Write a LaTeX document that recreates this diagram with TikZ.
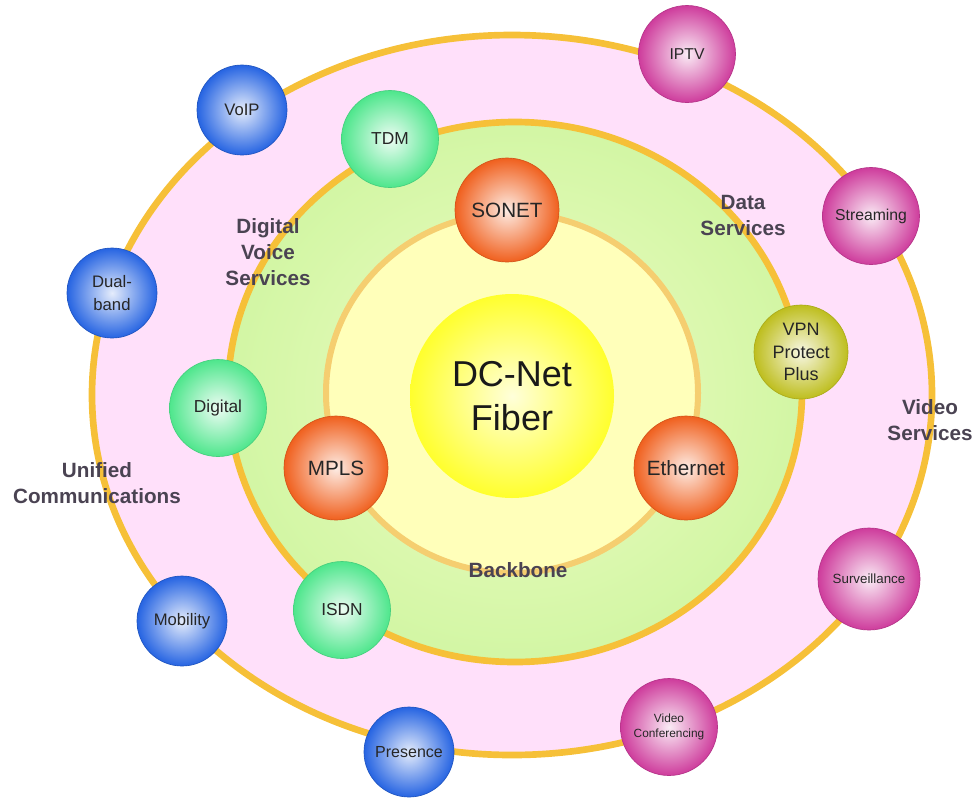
\documentclass[tikz,border=0pt]{standalone}
\usepackage{fontspec}
\setmainfont{Liberation Sans}

\definecolor{ringgold}{RGB}{246,192,56}
\definecolor{pinkband}{RGB}{255,224,250}
\definecolor{greenout}{RGB}{210,246,164}
\definecolor{greenin}{RGB}{238,253,196}
\definecolor{coreyellow}{RGB}{255,255,186}
\definecolor{innerring}{RGB}{245,206,112}
\definecolor{fiberedge}{RGB}{255,255,45}
\definecolor{fibercore}{RGB}{255,255,218}
\definecolor{voiceblue}{RGB}{38,100,226}
\definecolor{digitgreen}{RGB}{78,230,140}
\definecolor{coreorange}{RGB}{240,96,30}
\definecolor{videopink}{RGB}{206,60,156}
\definecolor{vpnolive}{RGB}{190,190,30}
\definecolor{labelgray}{RGB}{74,67,82}

\tikzset{
  ring/.style={line width=5pt, draw=ringgold},
  ball/.style={circle, inner sep=0pt, align=center, text=black!85},
  bluebal/.style={ball, minimum size=67.5pt, inner color=voiceblue!12!white, outer color=voiceblue, draw=voiceblue!85!black, line width=0.5pt, font=\fontsize{12.5}{16}\selectfont},
  greenbal/.style={ball, minimum size=72.75pt, inner color=digitgreen!10!white, outer color=digitgreen, draw=digitgreen!90!black, line width=0.5pt, font=\fontsize{13}{16}\selectfont},
  orangebal/.style={ball, minimum size=78pt, inner color=coreorange!12!white, outer color=coreorange, draw=coreorange!88!black, line width=0.5pt, font=\fontsize{15.5}{18}\selectfont},
  pinkbal/.style={ball, minimum size=72.75pt, inner color=videopink!10!white, outer color=videopink, draw=videopink!88!black, line width=0.5pt, font=\fontsize{11.8}{14}\selectfont},
  olivebal/.style={ball, minimum size=70.5pt, inner color=vpnolive!12!white, outer color=vpnolive, draw=vpnolive!90!black, line width=0.5pt, font=\fontsize{13.5}{17}\selectfont},
  bandlabel/.style={align=center, text=labelgray, font=\bfseries\fontsize{15.5}{19.5}\selectfont}
}

\begin{document}
\begin{tikzpicture}[x=0.75pt,y=0.75pt,yscale=-1,xscale=1]
\useasboundingbox (0,0) rectangle (977,797);

%Shape: Ellipse (service band)
\draw [ring, fill=pinkband] (512,395) ellipse [x radius=420, y radius=360];
%Shape: Ellipse (access band)
\draw [ring, inner color=greenin, outer color=greenout] (515,392) ellipse [x radius=287, y radius=270];
%Shape: Ellipse (backbone)
\draw [line width=4.5pt, draw=innerring, fill=coreyellow] (512,393) ellipse [x radius=186, y radius=180];
%Shape: Circle (core)
\node (fiber) [circle, minimum size=153pt, inner sep=0pt, inner color=fibercore, outer color=fiberedge, align=center, text=black!90, font=\fontsize{27}{33}\selectfont] at (512,396) {DC-Net\\Fiber};

% Backbone nodes
\node (sonet) [orangebal] at (507,210) {SONET};
\node (mpls) [orangebal] at (336,468) {MPLS};
\node (ethernet) [orangebal] at (686,468) {Ethernet};

% Digital voice nodes
\node (tdm) [greenbal] at (390,139) {TDM};
\node (digital) [greenbal] at (218,408) {Digital};
\node (isdn) [greenbal] at (342,610) {ISDN};

% Data node
\node (vpn) [olivebal] at (801,352) {VPN\\Protect\\Plus};

% Unified communications nodes
\node (voip) [bluebal] at (242,110) {VoIP};
\node (dualband) [bluebal, font=\fontsize{12.5}{17}\selectfont] at (112,293) {Dual-\\band};
\node (mobility) [bluebal] at (182,621) {Mobility};
\node (presence) [bluebal, font=\fontsize{12}{14}\selectfont] at (409,752) {Presence};

% Video nodes
\node (iptv) [pinkbal] at (687,54) {IPTV};
\node (streaming) [pinkbal] at (871,216) {Streaming};
\node (surveil) [pinkbal, minimum size=76.5pt, font=\fontsize{10}{12}\selectfont] at (869,579) {Surveillance};
\node (videoconf) [pinkbal, font=\fontsize{8.9}{11}\selectfont] at (669,727) {Video\\Conferencing};

% Text Node
\node (voicelbl) [bandlabel] at (268,252) {Digital\\Voice\\Services};
% Text Node
\node (datalbl) [bandlabel] at (743,215) {Data\\Services};
% Text Node
\node (videolbl) [bandlabel] at (930,420) {Video\\Services};
% Text Node
\node (unifiedlbl) [bandlabel] at (97,483) {Unified\\Communications};
% Text Node
\node (backbonelbl) [bandlabel] at (518,570) {Backbone};

\end{tikzpicture}
\end{document}
